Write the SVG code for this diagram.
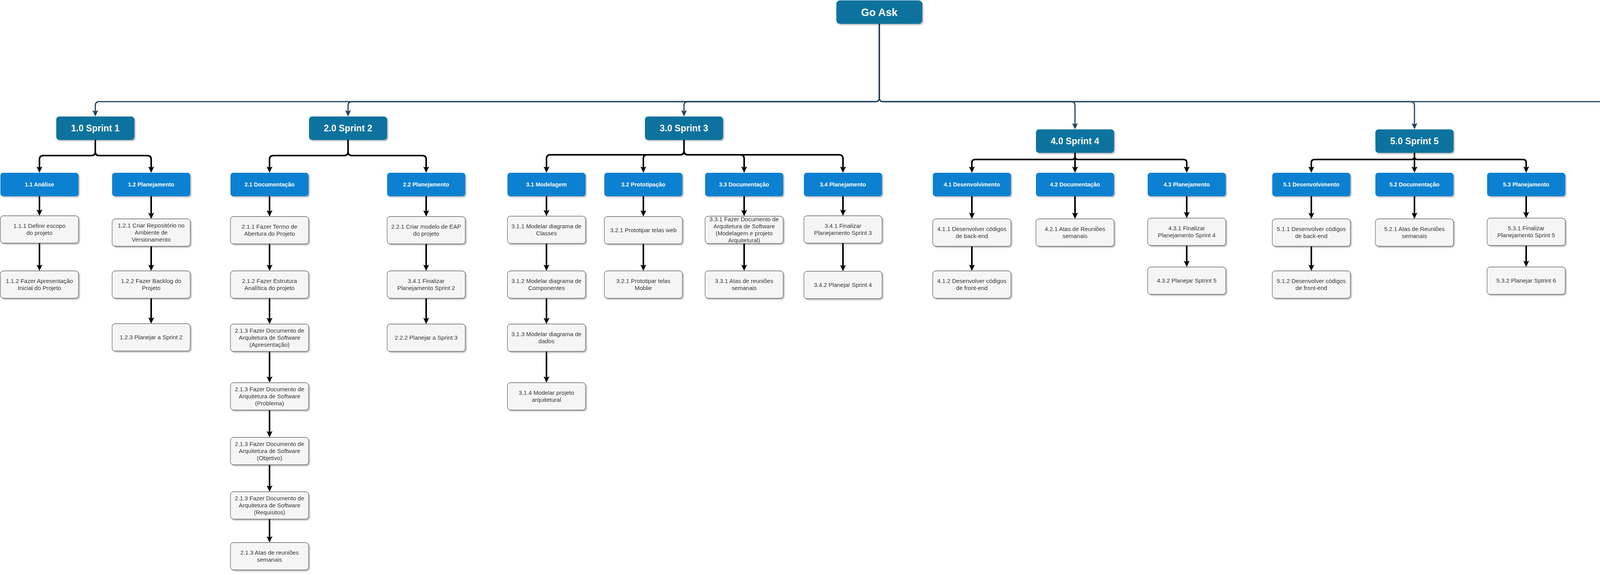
<svg xmlns="http://www.w3.org/2000/svg" width="4957" height="1471" viewBox="0 0 4957 1471">
<style>
.bg{fill:#ffffff}
.root{fill:#10739E}
.sp{fill:#10739E}
.bl{fill:#0A81D1}
.t{fill:#F5F5F5;stroke:#666666;stroke-width:1.3}
.sh{filter:url(#shadow)}
.rt{font-family:"Liberation Sans",Arial,sans-serif;font-weight:bold;font-size:27px;fill:#ffffff;text-anchor:middle}
.st{font-family:"Liberation Sans",Arial,sans-serif;font-weight:bold;font-size:23px;fill:#ffffff;text-anchor:middle}
.bt{font-family:"Liberation Sans",Arial,sans-serif;font-weight:bold;font-size:14.5px;fill:#ffffff;text-anchor:middle}
.tt{font-family:"Liberation Sans",Arial,sans-serif;font-size:15px;fill:#333333;text-anchor:middle}
.c1{fill:none;stroke:#23445D;stroke-width:3;marker-end:url(#aTop)}
.c2{fill:none;stroke:#000000;stroke-width:4;marker-end:url(#aBlk)}
</style>
<defs>
<filter id="shadow" x="-10%" y="-10%" width="130%" height="140%">
<feDropShadow dx="3" dy="3" stdDeviation="1.2" flood-color="#000000" flood-opacity="0.25"/>
</filter>
<marker id="aTop" markerUnits="userSpaceOnUse" viewBox="0 0 16 15" markerWidth="16" markerHeight="15" refX="5" refY="7.5" orient="auto">
<path d="M0,0 L16,7.5 L0,15 L3,7.5 z" fill="#23445D"/>
</marker>
<marker id="aBlk" markerUnits="userSpaceOnUse" viewBox="0 0 16 15" markerWidth="16" markerHeight="15" refX="5" refY="7.5" orient="auto">
<path d="M0,0 L16,7.5 L0,15 L3,7.5 z" fill="#000000"/>
</marker>
</defs>
<rect class="bg" x="0" y="0" width="4957" height="1471"/>

<g id="connectors">
<!-- root to sprints -->
<path class="c1" d="M2251 61 V250 Q2251 260 2241 260 H254 Q244 260 244 270 V287"/>
<path class="c1" d="M2251 61 V250 Q2251 260 2241 260 H901 Q891 260 891 270 V287"/>
<path class="c1" d="M2251 61 V250 Q2251 260 2241 260 H1761 Q1751 260 1751 270 V287"/>
<path class="c1" d="M2251 61 V250 Q2251 260 2261 260 H2742 Q2752 260 2752 270 V320"/>
<path class="c1" d="M2251 61 V250 Q2251 260 2261 260 H3611 Q3621 260 3621 270 V320"/>
<path class="c1" d="M2251 61 V250 Q2251 260 2261 260 H4513 Q4523 260 4523 270 V320"/>
<!-- sprint 1 -->
<path class="c2" d="M244 358 V388 Q244 398 234 398 H111 Q101 398 101 408 V431"/>
<path class="c2" d="M244 358 V388 Q244 398 254 398 H377 Q387 398 387 408 V431"/>
<path class="c2" d="M101 502 V541"/>
<path class="c2" d="M101 622 V682"/>
<path class="c2" d="M387 502 V549"/>
<path class="c2" d="M387 630 V682"/>
<path class="c2" d="M387 763 V817"/>
<!-- sprint 2 -->
<path class="c2" d="M891 358 V388 Q891 398 881 398 H700 Q690 398 690 408 V431"/>
<path class="c2" d="M891 358 V388 Q891 398 901 398 H1081 Q1091 398 1091 408 V431"/>
<path class="c2" d="M690 502 V543"/>
<path class="c2" d="M690 624 V682"/>
<path class="c2" d="M690 763 V818"/>
<path class="c2" d="M690 899 V968"/>
<path class="c2" d="M690 1049 V1108"/>
<path class="c2" d="M690 1189 V1247"/>
<path class="c2" d="M690 1328 V1377"/>
<path class="c2" d="M1091 502 V543"/>
<path class="c2" d="M1091 624 V682"/>
<path class="c2" d="M1091 763 V818"/>
<!-- sprint 3 -->
<path class="c2" d="M1751 358 V386 Q1751 396 1741 396 H1409 Q1399 396 1399 406 V431"/>
<path class="c2" d="M1751 358 V386 Q1751 396 1741 396 H1657 Q1647 396 1647 406 V431"/>
<path class="c2" d="M1751 358 V386 Q1751 396 1761 396 H1895 Q1905 396 1905 406 V431"/>
<path class="c2" d="M1751 358 V386 Q1751 396 1761 396 H2148 Q2158 396 2158 406 V431"/>
<path class="c2" d="M1399 502 V542"/>
<path class="c2" d="M1399 623 V682"/>
<path class="c2" d="M1399 763 V818"/>
<path class="c2" d="M1399 899 V968"/>
<path class="c2" d="M1647 502 V543"/>
<path class="c2" d="M1647 624 V682"/>
<path class="c2" d="M1905 502 V542"/>
<path class="c2" d="M1905 623 V682"/>
<path class="c2" d="M2158 502 V541"/>
<path class="c2" d="M2158 622 V683"/>
<!-- sprint 4 -->
<path class="c2" d="M2752 391 V400 Q2752 408 2744 408 H2496 Q2488 408 2488 416 V431"/>
<path class="c2" d="M2752 391 V431"/>
<path class="c2" d="M2752 391 V400 Q2752 408 2760 408 H3030 Q3038 408 3038 416 V431"/>
<path class="c2" d="M2488 502 V549"/>
<path class="c2" d="M2488 630 V682"/>
<path class="c2" d="M2752 502 V549"/>
<path class="c2" d="M3038 502 V547"/>
<path class="c2" d="M3038 628 V672"/>
<!-- sprint 5 -->
<path class="c2" d="M3621 391 V400 Q3621 408 3613 408 H3365 Q3357 408 3357 416 V431"/>
<path class="c2" d="M3621 391 V431"/>
<path class="c2" d="M3621 391 V400 Q3621 408 3629 408 H3899 Q3907 408 3907 416 V431"/>
<path class="c2" d="M3357 502 V549"/>
<path class="c2" d="M3357 630 V682"/>
<path class="c2" d="M3621 502 V549"/>
<path class="c2" d="M3907 502 V547"/>
<path class="c2" d="M3907 628 V672"/>
<!-- sprint 6 -->
<path class="c2" d="M4523 391 V400 Q4523 408 4515 408 H4211 Q4203 408 4203 416 V431"/>
<path class="c2" d="M4523 391 V431"/>
<path class="c2" d="M4523 391 V400 Q4523 408 4531 408 H4845 Q4853 408 4853 416 V431"/>
<path class="c2" d="M4203 502 V542"/>
<path class="c2" d="M4203 623 V672"/>
<path class="c2" d="M4523 502 V541"/>
<path class="c2" d="M4523 622 V683"/>
<path class="c2" d="M4523 764 V818"/>
<path class="c2" d="M4523 899 V968"/>
<path class="c2" d="M4853 502 V541"/>
<path class="c2" d="M4853 622 V672"/>
</g>

<g id="root" class="sh"><rect class="root" x="2141" y="1" width="220" height="60" rx="9"/><text class="rt" x="2251" y="40.5">Go Ask</text></g>

<g id="s1" class="sh"><rect class="sp" x="144" y="298" width="200" height="60" rx="8"/><text class="st" x="244" y="336">1.0 Sprint 1</text></g>
<g id="s2" class="sh"><rect class="sp" x="791" y="298" width="200" height="60" rx="8"/><text class="st" x="891" y="336">2.0 Sprint 2</text></g>
<g id="s3" class="sh"><rect class="sp" x="1651" y="298" width="200" height="60" rx="8"/><text class="st" x="1751" y="336">3.0 Sprint 3</text></g>
<g id="s4" class="sh"><rect class="sp" x="2652" y="331" width="200" height="60" rx="8"/><text class="st" x="2752" y="369">4.0 Sprint 4</text></g>
<g id="s5" class="sh"><rect class="sp" x="3521" y="331" width="200" height="60" rx="8"/><text class="st" x="3621" y="369">5.0 Sprint 5</text></g>
<g id="s6" class="sh"><rect class="sp" x="4423" y="331" width="200" height="60" rx="8"/><text class="st" x="4523" y="369">6.0 Sprint 6</text></g>

<g id="b11" class="sh"><rect class="bl" x="1" y="442" width="200" height="60" rx="7"/><text class="bt" x="101" y="477">1.1 Análise</text></g>
<g id="b12" class="sh"><rect class="bl" x="287" y="442" width="200" height="60" rx="7"/><text class="bt" x="387" y="477">1.2 Planejamento</text></g>
<g id="b21" class="sh"><rect class="bl" x="590" y="442" width="200" height="60" rx="7"/><text class="bt" x="690" y="477">2.1 Documentação</text></g>
<g id="b22" class="sh"><rect class="bl" x="991" y="442" width="200" height="60" rx="7"/><text class="bt" x="1091" y="477">2.2 Planejamento</text></g>
<g id="b31" class="sh"><rect class="bl" x="1299" y="442" width="200" height="60" rx="7"/><text class="bt" x="1399" y="477">3.1 Modelagem</text></g>
<g id="b32" class="sh"><rect class="bl" x="1547" y="442" width="200" height="60" rx="7"/><text class="bt" x="1647" y="477">3.2 Prototipação</text></g>
<g id="b33" class="sh"><rect class="bl" x="1805" y="442" width="200" height="60" rx="7"/><text class="bt" x="1905" y="477">3.3 Documentação</text></g>
<g id="b34" class="sh"><rect class="bl" x="2058" y="442" width="200" height="60" rx="7"/><text class="bt" x="2158" y="477">3.4 Planejamento</text></g>
<g id="b41" class="sh"><rect class="bl" x="2388" y="442" width="200" height="60" rx="7"/><text class="bt" x="2488" y="477">4.1 Desenvolvimento</text></g>
<g id="b42" class="sh"><rect class="bl" x="2652" y="442" width="200" height="60" rx="7"/><text class="bt" x="2752" y="477">4.2 Documentação</text></g>
<g id="b43" class="sh"><rect class="bl" x="2938" y="442" width="200" height="60" rx="7"/><text class="bt" x="3038" y="477">4.3 Planejamento</text></g>
<g id="b51" class="sh"><rect class="bl" x="3257" y="442" width="200" height="60" rx="7"/><text class="bt" x="3357" y="477">5.1 Desenvolvimento</text></g>
<g id="b52" class="sh"><rect class="bl" x="3521" y="442" width="200" height="60" rx="7"/><text class="bt" x="3621" y="477">5.2 Documentação</text></g>
<g id="b53" class="sh"><rect class="bl" x="3807" y="442" width="200" height="60" rx="7"/><text class="bt" x="3907" y="477">5.3 Planejamento</text></g>
<g id="b61" class="sh"><rect class="bl" x="4103" y="442" width="200" height="60" rx="7"/><text class="bt" x="4203" y="477">6.1 Desenvolvimento</text></g>
<g id="b62" class="sh"><rect class="bl" x="4423" y="442" width="200" height="60" rx="7"/><text class="bt" x="4523" y="477">6.2 Documentação</text></g>
<g id="b63" class="sh"><rect class="bl" x="4753" y="442" width="200" height="60" rx="7"/><text class="bt" x="4853" y="477">6.3 Apresentação</text></g>

<g id="t111" class="sh"><rect class="t" x="1" y="552" width="200" height="70" rx="8"/><text class="tt" x="101" y="583.3"><tspan x="101">1.1.1 Definir escopo</tspan><tspan x="101" dy="18">do projeto</tspan></text></g>
<g id="t112" class="sh"><rect class="t" x="1" y="693" width="200" height="70" rx="8"/><text class="tt" x="101" y="724.3"><tspan x="101">1.1.2 Fazer Apresentação</tspan><tspan x="101" dy="18">Inicial do Projeto</tspan></text></g>
<g id="t121" class="sh"><rect class="t" x="287" y="560" width="200" height="70" rx="8"/><text class="tt" x="387" y="582.3"><tspan x="387">1.2.1 Criar Repositório no</tspan><tspan x="387" dy="18">Ambiente de</tspan><tspan x="387" dy="18">Versionamento</tspan></text></g>
<g id="t122" class="sh"><rect class="t" x="287" y="693" width="200" height="70" rx="8"/><text class="tt" x="387" y="724.3"><tspan x="387">1.2.2 Fazer Backlog do</tspan><tspan x="387" dy="18">Projeto</tspan></text></g>
<g id="t123" class="sh"><rect class="t" x="287" y="828" width="200" height="70" rx="8"/><text class="tt" x="387" y="868.3">1.2.3 Planejar a Sprint 2</text></g>

<g id="t211" class="sh"><rect class="t" x="590" y="554" width="200" height="70" rx="8"/><text class="tt" x="690" y="585.3"><tspan x="690">2.1.1 Fazer Termo de</tspan><tspan x="690" dy="18">Abertura do Projeto</tspan></text></g>
<g id="t212" class="sh"><rect class="t" x="590" y="693" width="200" height="70" rx="8"/><text class="tt" x="690" y="724.3"><tspan x="690">2.1.2 Fazer Estrutura</tspan><tspan x="690" dy="18">Analítica do projeto</tspan></text></g>
<g id="t213a" class="sh"><rect class="t" x="590" y="829" width="200" height="70" rx="8"/><text class="tt" x="690" y="851.3"><tspan x="690">2.1.3 Fazer Documento de</tspan><tspan x="690" dy="18">Arquitetura de Software</tspan><tspan x="690" dy="18">(Apresentação)</tspan></text></g>
<g id="t213p" class="sh"><rect class="t" x="590" y="979" width="200" height="70" rx="8"/><text class="tt" x="690" y="1001.3"><tspan x="690">2.1.3 Fazer Documento de</tspan><tspan x="690" dy="18">Arquitetura de Software</tspan><tspan x="690" dy="18">(Problema)</tspan></text></g>
<g id="t213o" class="sh"><rect class="t" x="590" y="1119" width="200" height="70" rx="8"/><text class="tt" x="690" y="1141.3"><tspan x="690">2.1.3 Fazer Documento de</tspan><tspan x="690" dy="18">Arquitetura de Software</tspan><tspan x="690" dy="18">(Objetivo)</tspan></text></g>
<g id="t213r" class="sh"><rect class="t" x="590" y="1258" width="200" height="70" rx="8"/><text class="tt" x="690" y="1280.3"><tspan x="690">2.1.3 Fazer Documento de</tspan><tspan x="690" dy="18">Arquitetura de Software</tspan><tspan x="690" dy="18">(Requisitos)</tspan></text></g>
<g id="t213at" class="sh"><rect class="t" x="590" y="1388" width="200" height="70" rx="8"/><text class="tt" x="690" y="1419.3"><tspan x="690">2.1.3 Atas de reuniões</tspan><tspan x="690" dy="18">semanais</tspan></text></g>
<g id="t221" class="sh"><rect class="t" x="991" y="554" width="200" height="70" rx="8"/><text class="tt" x="1091" y="585.3"><tspan x="1091">2.2.1 Criar modelo de EAP</tspan><tspan x="1091" dy="18">do projeto</tspan></text></g>
<g id="t341b" class="sh"><rect class="t" x="991" y="693" width="200" height="70" rx="8"/><text class="tt" x="1091" y="724.3"><tspan x="1091">3.4.1 Finalizar</tspan><tspan x="1091" dy="18">Planejamento Sprint 2</tspan></text></g>
<g id="t222" class="sh"><rect class="t" x="991" y="829" width="200" height="70" rx="8"/><text class="tt" x="1091" y="869.3">2.2.2 Planejar a Sprint 3</text></g>

<g id="t311" class="sh"><rect class="t" x="1299" y="553" width="200" height="70" rx="8"/><text class="tt" x="1399" y="584.3"><tspan x="1399">3.1.1 Modelar diagrama de</tspan><tspan x="1399" dy="18">Classes</tspan></text></g>
<g id="t312" class="sh"><rect class="t" x="1299" y="693" width="200" height="70" rx="8"/><text class="tt" x="1399" y="724.3"><tspan x="1399">3.1.2 Modelar diagrama de</tspan><tspan x="1399" dy="18">Componentes</tspan></text></g>
<g id="t313" class="sh"><rect class="t" x="1299" y="829" width="200" height="70" rx="8"/><text class="tt" x="1399" y="860.3"><tspan x="1399">3.1.3 Modelar diagrama de</tspan><tspan x="1399" dy="18">dados</tspan></text></g>
<g id="t314" class="sh"><rect class="t" x="1299" y="979" width="200" height="70" rx="8"/><text class="tt" x="1399" y="1010.3"><tspan x="1399">3.1.4 Modelar projeto</tspan><tspan x="1399" dy="18">arquitetural</tspan></text></g>
<g id="t321" class="sh"><rect class="t" x="1547" y="554" width="200" height="70" rx="8"/><text class="tt" x="1647" y="594.3">3.2.1 Prototipar telas web</text></g>
<g id="t321m" class="sh"><rect class="t" x="1547" y="693" width="200" height="70" rx="8"/><text class="tt" x="1647" y="724.3"><tspan x="1647">3.2.1 Prototipar telas</tspan><tspan x="1647" dy="18">Moblie</tspan></text></g>
<g id="t331" class="sh"><rect class="t" x="1805" y="553" width="200" height="70" rx="8"/><text class="tt" x="1905" y="566.3"><tspan x="1905">3.3.1 Fazer Documento de</tspan><tspan x="1905" dy="18">Arquitetura de Software</tspan><tspan x="1905" dy="18">(Modelagem e projeto</tspan><tspan x="1905" dy="18">Arquitetural)</tspan></text></g>
<g id="t331a" class="sh"><rect class="t" x="1805" y="693" width="200" height="70" rx="8"/><text class="tt" x="1905" y="724.3"><tspan x="1905">3.3.1 Atas de reuniões</tspan><tspan x="1905" dy="18">semanais</tspan></text></g>
<g id="t341" class="sh"><rect class="t" x="2058" y="552" width="200" height="70" rx="8"/><text class="tt" x="2158" y="583.3"><tspan x="2158">3.4.1 Finalizar</tspan><tspan x="2158" dy="18">Planejamento Sprint 3</tspan></text></g>
<g id="t342" class="sh"><rect class="t" x="2058" y="694" width="200" height="70" rx="8"/><text class="tt" x="2158" y="734.3">3.4.2 Planejar Sprint 4</text></g>

<g id="t411" class="sh"><rect class="t" x="2388" y="560" width="200" height="70" rx="8"/><text class="tt" x="2488" y="591.3"><tspan x="2488">4.1.1 Desenvolver códigos</tspan><tspan x="2488" dy="18">de back-end</tspan></text></g>
<g id="t412" class="sh"><rect class="t" x="2388" y="693" width="200" height="70" rx="8"/><text class="tt" x="2488" y="724.3"><tspan x="2488">4.1.2 Desenvolver códigos</tspan><tspan x="2488" dy="18">de front-end</tspan></text></g>
<g id="t421" class="sh"><rect class="t" x="2652" y="560" width="200" height="70" rx="8"/><text class="tt" x="2752" y="591.3"><tspan x="2752">4.2.1 Atas de Reuniões</tspan><tspan x="2752" dy="18">semanais</tspan></text></g>
<g id="t431" class="sh"><rect class="t" x="2938" y="558" width="200" height="70" rx="8"/><text class="tt" x="3038" y="589.3"><tspan x="3038">4.3.1 Finalizar</tspan><tspan x="3038" dy="18">Planejamento Sprint 4</tspan></text></g>
<g id="t432" class="sh"><rect class="t" x="2938" y="683" width="200" height="70" rx="8"/><text class="tt" x="3038" y="723.3">4.3.2 Planejar Sptrint 5</text></g>

<g id="t511" class="sh"><rect class="t" x="3257" y="560" width="200" height="70" rx="8"/><text class="tt" x="3357" y="591.3"><tspan x="3357">5.1.1 Desenvolver códigos</tspan><tspan x="3357" dy="18">de back-end</tspan></text></g>
<g id="t512" class="sh"><rect class="t" x="3257" y="693" width="200" height="70" rx="8"/><text class="tt" x="3357" y="724.3"><tspan x="3357">5.1.2 Desenvolver códigos</tspan><tspan x="3357" dy="18">de front-end</tspan></text></g>
<g id="t521" class="sh"><rect class="t" x="3521" y="560" width="200" height="70" rx="8"/><text class="tt" x="3621" y="591.3"><tspan x="3621">5.2.1 Atas de Reuniões</tspan><tspan x="3621" dy="18">semanais</tspan></text></g>
<g id="t531" class="sh"><rect class="t" x="3807" y="558" width="200" height="70" rx="8"/><text class="tt" x="3907" y="589.3"><tspan x="3907">5.3.1 Finalizar</tspan><tspan x="3907" dy="18">Planejamento Sprint 5</tspan></text></g>
<g id="t532" class="sh"><rect class="t" x="3807" y="683" width="200" height="70" rx="8"/><text class="tt" x="3907" y="723.3">5.3.2 Planejar Sptrint 6</text></g>

<g id="t611" class="sh"><rect class="t" x="4103" y="553" width="200" height="70" rx="8"/><text class="tt" x="4203" y="566.3"><tspan x="4203">6.1.1 Desenvolver códigos</tspan><tspan x="4203" dy="18">de back-end completos de</tspan><tspan x="4203" dy="18">acordo com escopo do</tspan><tspan x="4203" dy="18">projeto</tspan></text></g>
<g id="t612" class="sh"><rect class="t" x="4103" y="683" width="200" height="70" rx="8"/><text class="tt" x="4203" y="696.3"><tspan x="4203">6.1.2 Desenvolver códigos</tspan><tspan x="4203" dy="18">de front-end completos de</tspan><tspan x="4203" dy="18">acordo com escopo do</tspan><tspan x="4203" dy="18">projeto</tspan></text></g>
<g id="t621" class="sh"><rect class="t" x="4423" y="552" width="200" height="70" rx="8"/><text class="tt" x="4523" y="574.3"><tspan x="4523">6.2.1 Fazer documento de</tspan><tspan x="4523" dy="18">Arquitetura (Avaliação de</tspan><tspan x="4523" dy="18">arquitetura)</tspan></text></g>
<g id="t622" class="sh"><rect class="t" x="4423" y="694" width="200" height="70" rx="8"/><text class="tt" x="4523" y="716.3"><tspan x="4523">6.2.2 Fazer documento de</tspan><tspan x="4523" dy="18">Arquitetura (Referências e</tspan><tspan x="4523" dy="18">apêndices)</tspan></text></g>
<g id="t623" class="sh"><rect class="t" x="4423" y="829" width="200" height="70" rx="8"/><text class="tt" x="4523" y="860.3"><tspan x="4523">6.2.3 Atas de Reuniões</tspan><tspan x="4523" dy="18">semanais</tspan></text></g>
<g id="t624" class="sh"><rect class="t" x="4423" y="979" width="200" height="70" rx="8"/><text class="tt" x="4523" y="1010.3"><tspan x="4523">6.2.4 Revisar Documento</tspan><tspan x="4523" dy="18">de Arquitetura</tspan></text></g>
<g id="t631" class="sh"><rect class="t" x="4753" y="552" width="200" height="70" rx="8"/><text class="tt" x="4853" y="583.3"><tspan x="4853">6.3.1 Gravar vídeo de</tspan><tspan x="4853" dy="18">exposição do projeto</tspan></text></g>
<g id="t632" class="sh"><rect class="t" x="4753" y="683" width="200" height="70" rx="8"/><text class="tt" x="4853" y="714.3"><tspan x="4853">6.3.2 Fazer apresentação</tspan><tspan x="4853" dy="18">final do projeto</tspan></text></g>
</svg>
